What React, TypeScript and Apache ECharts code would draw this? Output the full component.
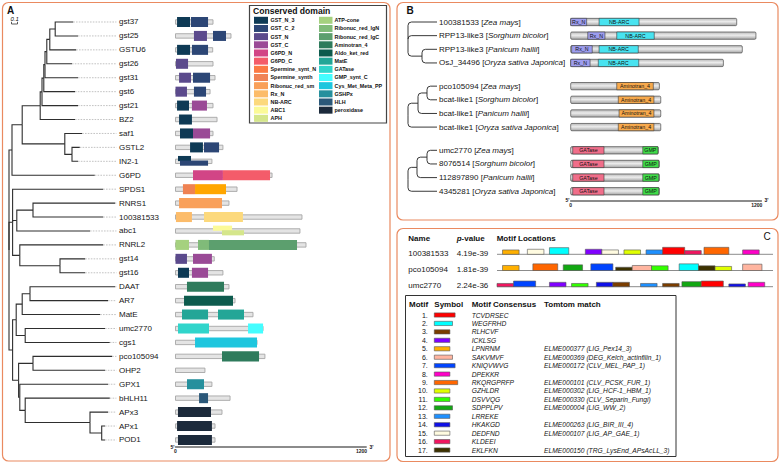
import React, { useEffect, useRef } from "react";
import * as echarts from "echarts";

const FONT = "'Liberation Sans', Arial, Helvetica, sans-serif";

// ---------------- Panel A data ----------------
const geneNames = ["gst37", "gst25", "GSTU6", "gst26", "gst31", "gst6", "gst21", "BZ2", "saf1", "GSTL2", "IN2-1", "G6PD", "SPDS1", "RNRS1", "100381533", "abc1", "RNRL2", "gst14", "gst16", "DAAT", "AR7", "MatE", "umc2770", "cgs1", "pco105094", "OHP2", "GPX1", "bHLH11", "APx3", "APx1", "POD1"];
const geneLengths = [242, 358, 240, 242, 255, 223, 242, 268, 242, 306, 235, 623, 397, 345, 816, 803, 842, 250, 306, 345, 384, 500, 565, 526, 577, 190, 235, 352, 300, 255, 255];

// [gene, domain, start, end, lane(0 full, 1 upper, 2 lower)]
const geneDomains: [string, string, number, number, number][] = [
  ["gst37", "GST_N_3", 10, 94, 0], ["gst37", "GST_C_2", 100, 210, 0],
  ["gst25", "GST_N", 119, 203, 0], ["gst25", "GST_C_2", 242, 326, 0],
  ["GSTU6", "GST_N_3", 10, 94, 0], ["GSTU6", "GST_C_2", 106, 210, 0],
  ["gst26", "GST_N", 3, 81, 0],
  ["gst31", "GST_N", 23, 100, 0], ["gst31", "GST_C_2", 113, 223, 0],
  ["gst6", "GST_N", 0, 74, 0], ["gst6", "GST_C_2", 119, 197, 0],
  ["gst21", "GST_N_3", 10, 87, 0], ["gst21", "GST_C", 106, 203, 0],
  ["BZ2", "GST_N_3", 23, 106, 0],
  ["saf1", "GST_N_3", 29, 113, 0], ["saf1", "GST_C", 113, 223, 0],
  ["GSTL2", "GST_N_3", 94, 177, 0], ["GSTL2", "GST_C_2", 184, 281, 0],
  ["IN2-1", "GST_N_3", 16, 100, 1], ["IN2-1", "GST_C_2", 29, 210, 2],
  ["G6PD", "G6PD_N", 113, 306, 0], ["G6PD", "G6PD_C", 306, 610, 0],
  ["SPDS1", "Spermine_synt_N", 48, 126, 0], ["SPDS1", "Spermine_synth", 126, 326, 0],
  ["RNRS1", "Ribonuc_red_sm", 23, 300, 0],
  ["100381533", "Rx_N", 3, 106, 0], ["100381533", "NB-ARC", 184, 435, 0],
  ["abc1", "ABC1", 242, 365, 1], ["abc1", "APH", 300, 442, 2],
  ["RNRL2", "ATP-cone", 0, 87, 0], ["RNRL2", "Ribonuc_red_lgN", 145, 216, 0], ["RNRL2", "Ribonuc_red_lgC", 216, 784, 0],
  ["gst14", "GST_N", 0, 74, 0], ["gst14", "GST_C", 113, 235, 0],
  ["gst16", "GST_N_3", 16, 87, 0], ["gst16", "GST_C", 106, 210, 0],
  ["DAAT", "Aminotran_4", 74, 313, 0],
  ["AR7", "Aldo_ket_red", 55, 371, 0],
  ["MatE", "MatE", 42, 210, 0], ["MatE", "MatE", 274, 442, 0],
  ["umc2770", "GATase", 16, 216, 0], ["umc2770", "GMP_synt_C", 468, 565, 0],
  ["cgs1", "Cys_Met_Meta_PP", 126, 526, 0],
  ["pco105094", "Aminotran_4", 300, 539, 0],
  ["GPX1", "GSHPx", 74, 184, 0],
  ["bHLH11", "HLH", 152, 210, 0],
  ["APx3", "peroxidase", 16, 229, 0],
  ["APx1", "peroxidase", 10, 235, 0],
  ["POD1", "peroxidase", 16, 235, 0],
];

const legendCol1 = ["GST_N_3", "GST_C_2", "GST_N", "GST_C", "G6PD_N", "G6PD_C", "Spermine_synt_N", "Spermine_synth", "Ribonuc_red_sm", "Rx_N", "NB-ARC", "ABC1", "APH"];
const legendCol2 = ["ATP-cone", "Ribonuc_red_lgN", "Ribonuc_red_lgC", "Aminotran_4", "Aldo_ket_red", "MatE", "GATase", "GMP_synt_C", "Cys_Met_Meta_PP", "GSHPx", "HLH", "peroxidase"];
const domainColors: Record<string, string> = {
  GST_N_3: "#0e3a55", GST_C_2: "#2c4675", GST_N: "#5b4a8c", GST_C: "#9a4a96",
  G6PD_N: "#d24586", G6PD_C: "#f45c6a", Spermine_synt_N: "#fc7a45", Spermine_synth: "#f08458",
  Ribonuc_red_sm: "#f9a05a", Rx_N: "#fcbc6a", "NB-ARC": "#fcd97c", ABC1: "#fbfa98", APH: "#d5e68b",
  "ATP-cone": "#a5d17f", Ribonuc_red_lgN: "#80bb79", Ribonuc_red_lgC: "#5c9f6e", Aminotran_4: "#2e7b5c",
  Aldo_ket_red: "#0d5b4d", MatE: "#23a697", GATase: "#30d5cb", GMP_synt_C: "#44fdff",
  Cys_Met_Meta_PP: "#1ec6de", GSHPx: "#26909d", HLH: "#2b5879", peroxidase: "#1c2a3b",
};
// colours as drawn on the SPDS1 gene model
const barColorOverride: Record<string, string> = { Spermine_synt_N: "#ef8252", Spermine_synth: "#ffa600" };

type TNode = { d: number; kids?: TNode[]; leaf?: string | number };
const N = (d: number, kids: TNode[]): TNode => ({ d, kids });
const L = (leaf: string | number, d: number): TNode => ({ d, leaf });

// depth unit = 0.1 substitutions/site
const treeA = N(0, [
  N(0.5, [
    N(2.2, [
      N(5.2, [
        N(5.5, [
          N(5.8, [
            N(6.0, [
              N(6.3, [
                N(6.8, [N(7.7, [L("gst37", 10.7), L("gst25", 11.5)]), L("GSTU6", 11.2)]),
                L("gst26", 10.5),
              ]),
              L("gst31", 11.5),
            ]),
            L("gst6", 11),
          ]),
          L("gst21", 11.5),
        ]),
        L("BZ2", 11),
      ]),
      N(9.3, [L("saf1", 12.2), N(10.5, [L("GSTL2", 11.8), L("IN2-1", 11.5)])]),
    ]),
    L("G6PD", 14.3),
  ]),
  N(0.6, [
    L("SPDS1", 15.7),
    N(1.3, [N(4, [L("RNRS1", 17.7), L("100381533", 15.7)]), L("abc1", 13.5)]),
    N(1.8, [L("RNRL2", 15.7), N(8.5, [L("gst14", 12.7), L("gst16", 12.7)])]),
  ]),
  N(0.6, [
    N(1.2, [
      N(2.2, [N(3.5, [L("DAAT", 17.7), L("AR7", 16.5)]), L("MatE", 15.2)]),
      N(2.7, [L("umc2770", 16), L("cgs1", 16.8)]),
    ]),
    N(1.6, [
      N(4, [L("pco105094", 17.2), L("OHP2", 16)]),
      N(1.8, [
        L("GPX1", 16.5),
        N(2.7, [L("bHLH11", 16.8), N(13.5, [L("APx3", 16.5), N(15.45, [L("APx1", 16), L("POD1", 16)])])]),
      ]),
    ]),
  ]),
]);

// ---------------- Panel B data ----------------
const bNames = ["100381533", "RPP13-like3", "RPP13-like3", "OsJ_34496", "pco105094", "bcat-like1", "bcat-like1", "bcat-like1", "umc2770", "8076514", "112897890", "4345281"];
const bSpecies = ["Zea mays", "Sorghum bicolor", "Panicum hallii", "Oryza sativa Japonica", "Zea mays", "Sorghum bicolor", "Panicum hallii", "Oryza sativa Japonica", "Zea mays", "Sorghum bicolor", "Panicum hallii", "Oryza sativa Japonica"];
const bLengths = [1071, 1195, 1107, 985, 572, 581, 581, 581, 565, 572, 572, 572];
const bDomains: [number, string, number, number][] = [
  [0, "Rx_N", 0, 103], [0, "NB-ARC", 183, 441],
  [1, "Rx_N", 110, 221], [1, "NB-ARC", 297, 539],
  [2, "Rx_N", 6, 139], [2, "NB-ARC", 183, 436],
  [3, "Rx_N", 0, 125], [3, "NB-ARC", 178, 439],
  [4, "Aminotran_4", 297, 533], [5, "Aminotran_4", 307, 537], [6, "Aminotran_4", 312, 537], [7, "Aminotran_4", 307, 537],
  [8, "GATase", 13, 215], [8, "GMP", 465, 563],
  [9, "GATase", 13, 215], [9, "GMP", 465, 568],
  [10, "GATase", 13, 215], [10, "GMP", 465, 568],
  [11, "GATase", 13, 215], [11, "GMP", 465, 568],
];
const bDomainColors: Record<string, string> = { Rx_N: "#9d9def", "NB-ARC": "#48e3f0", Aminotran_4: "#f7a94c", GATase: "#f06e8a", GMP: "#3fdc48" };
const treesB = [
  N(0, [L(0, 29), L(1, 29), N(14, [L(2, 29), L(3, 29)])]),
  N(0, [N(10, [N(19, [L(4, 29), L(5, 29)]), L(6, 29)]), L(7, 29)]),
  N(0, [N(9, [N(19, [L(8, 29), L(9, 29)]), L(10, 29)]), L(11, 29)]),
];

// ---------------- Panel C data ----------------
const seqNames = ["100381533", "pco105094", "umc2770"];
const seqPvalues = ["4.19e-39", "1.81e-39", "2.24e-36"];
const motifConsensus = ["TCVDRSEC", "WEGFRHD", "RLHCVF", "ICKLSG", "LPNRNM", "SAKVMVF", "KNIQVWVG", "DPEKKR", "RKQRGPRFP", "GZHLDR", "DSVVQG", "SDPPLPV", "LRREKE", "HKAKGD", "DEDFND", "KLDEEI", "EKLFKN"];
const motifColors = ["#ff0000", "#00ffff", "#7a3d00", "#8000ff", "#ffb000", "#ffb5a0", "#0044ff", "#ff00c8", "#ff6600", "#e0ff00", "#33ff00", "#12a812", "#1e90ff", "#1010e8", "#fffbe0", "#f01660", "#3d3200"];
const motifMatches = ["", "", "", "", "ELME000377 (LIG_Pex14_3)", "ELME000369 (DEG_Kelch_actinfilin_1)", "ELME000172 (CLV_MEL_PAP_1)", "", "ELME000101 (CLV_PCSK_FUR_1)", "ELME000302 (LIG_HCF-1_HBM_1)", "ELME000330 (CLV_Separin_Fungi)", "ELME000004 (LIG_WW_2)", "", "ELME000263 (LIG_BIR_III_4)", "ELME000107 (LIG_AP_GAE_1)", "", "ELME000150 (TRG_LysEnd_APsAcLL_3)"];
// [sequence, motif number, start position, relative box height]
const motifSites: [number, number, number, number][] = [
  [0, 5, 2, 0.27], [0, 15, 11, 0.31], [0, 2, 19, 0.41], [0, 4, 32, 0.31], [0, 15, 38, 0.27], [0, 10, 46, 0.27], [0, 13, 54, 0.27], [0, 1, 60, 0.43], [0, 16, 68, 0.23], [0, 9, 75, 0.43], [0, 8, 89, 0.27],
  [1, 5, 2, 0.31], [1, 9, 13, 0.41], [1, 12, 24, 0.35], [1, 7, 34, 0.41], [1, 17, 43, 0.2], [1, 6, 49, 0.31], [1, 11, 56, 0.29], [1, 2, 66, 0.41], [1, 17, 73, 0.29], [1, 10, 79, 0.25], [1, 6, 89, 0.39],
  [2, 16, 0, 0.2], [2, 7, 6, 0.35], [2, 4, 19, 0.27], [2, 11, 27, 0.2], [2, 14, 36, 0.27], [2, 3, 42, 0.27], [2, 13, 52, 0.2], [2, 3, 60, 0.2], [2, 12, 67, 0.31], [2, 1, 74, 0.35], [2, 14, 84, 0.17], [2, 8, 91, 0.27],
];
const seqLength = 100;
const scaleTicks = [0, 1200];

// ---------------- helpers ----------------
function layoutTree(root: TNode, rowOf: (leaf: string | number) => number) {
  const edges: number[][] = [];
  const tips: number[][] = [];
  const walk = (n: TNode): number => {
    if (!n.kids) {
      const y = rowOf(n.leaf as any);
      tips.push([n.d, y]);
      return y;
    }
    const ys = n.kids.map(walk);
    const y = (ys[0] + ys[ys.length - 1]) / 2;
    n.kids.forEach((k, i) => edges.push([n.d, y, k.d, ys[i]]));
    return y;
  };
  walk(root);
  return { edges, tips };
}
const bRowY = (i: number) => i + Math.floor(i / 4) * 0.7;

const txt = (x: number, y: number, text: string, o: any = {}) => ({
  type: "text",
  x,
  y,
  silent: true,
  style: {
    text,
    fontSize: 8,
    fontFamily: FONT,
    fill: "#111",
    align: "left",
    verticalAlign: "middle",
    ...o,
  },
});

function buildOption(): any {
  const aTree = layoutTree(treeA, (n) => geneNames.indexOf(n as string));
  const bEdges: number[][] = [];
  treesB.forEach((t) => bEdges.push(...layoutTree(t, (i) => bRowY(i as number)).edges));

  const grids = [
    { left: 9, top: 15.03, width: 120, height: 431.9 },
    { left: 175.5, top: 15.03, width: 190.65, height: 431.9 },
    { left: 408, top: 15.18, width: 30, height: 182.9 },
    { left: 570.7, top: 15.18, width: 190.65, height: 182.9 },
    { left: 497, top: 238.1, width: 276, height: 48.6 },
    { left: 434.3, top: 310.78, width: 26, height: 143.5 },
  ];
  const hidden = (gi: number, min: number, max: number, inverse = false) => ({ type: "value", gridIndex: gi, min, max, show: false, inverse });
  const shownX = (gi: number, offset: number) => ({
    type: "value", gridIndex: gi, min: 0, max: 1230, position: "bottom", offset,
    axisLine: { show: true, onZero: false, lineStyle: { color: "#666", width: 1.6 } },
    axisTick: { show: false }, splitLine: { show: false },
    axisLabel: { show: true, customValues: scaleTicks, formatter: (v: number) => String(v), fontSize: 5, fontWeight: "bold", color: "#222", margin: 2, fontFamily: FONT },
  });
  const xAxis = [hidden(0, 0, 20), shownX(1, 0), hidden(2, 0, 30), shownX(3, 2.6), hidden(4, 0, seqLength), hidden(5, 0, 10)];
  const yAxis = [hidden(0, -0.5, 30.5, true), hidden(1, -0.5, 30.5, true), hidden(2, -0.5, 12.9, true), hidden(3, -0.5, 12.9, true), hidden(4, 0, 3, true), hidden(5, 0.5, 17.5, true)];

  const base = (gi: number) => ({ type: "custom", xAxisIndex: gi, yAxisIndex: gi, silent: true, clip: false, z: 5 });

  const series: any[] = [
    // A tree
    {
      ...base(0), data: aTree.edges,
      renderItem: (_p: any, api: any) => {
        const a = api.coord([api.value(0), api.value(1)]);
        const b = api.coord([api.value(0), api.value(3)]);
        const c = api.coord([api.value(2), api.value(3)]);
        return { type: "polyline", shape: { points: [a, b, c] }, style: { stroke: "#2e2e2e", lineWidth: 1.1, fill: "none" } };
      },
    },
    // A leaders
    {
      ...base(0), data: aTree.tips,
      renderItem: (_p: any, api: any) => {
        const a = api.coord([api.value(0), api.value(1)]);
        const b = api.coord([17.9, api.value(1)]);
        if (b[0] - a[0] < 1) return { type: "group", children: [] };
        return { type: "line", shape: { x1: a[0], y1: a[1], x2: b[0], y2: b[1] }, style: { stroke: "#b4b4b4", lineWidth: 0.8, lineDash: [1.6, 1.2] } };
      },
    },
    // A labels
    {
      ...base(0), data: geneNames.map((_n, i) => [18.33, i]),
      renderItem: (p: any, api: any) => {
        const a = api.coord([api.value(0), api.value(1)]);
        return { type: "text", x: a[0], y: a[1], style: { text: geneNames[p.dataIndex], fontSize: 8, fontFamily: FONT, fill: "#151515", align: "left", verticalAlign: "middle" } };
      },
    },
    // A gene backbones
    {
      ...base(1), data: geneLengths.map((len, i) => [len, i]),
      renderItem: (_p: any, api: any) => {
        const a = api.coord([0, api.value(1)]);
        const b = api.coord([api.value(0), api.value(1)]);
        return { type: "rect", shape: { x: a[0], y: a[1] - 2.2, width: b[0] - a[0], height: 4.4 }, style: { fill: "#e4e4e4", stroke: "#a6a6a6", lineWidth: 0.9 } };
      },
    },
    // A domains
    {
      ...base(1), z: 6,
      data: geneDomains.map((d) => [d[2], geneNames.indexOf(d[0]), d[3], d[4]]),
      renderItem: (p: any, api: any) => {
        const dom = geneDomains[p.dataIndex];
        const lane = api.value(3);
        const off = lane === 1 ? -0.2 : lane === 2 ? 0.13 : 0;
        const hRows = lane === 0 ? 0.72 : 0.37;
        const a = api.coord([api.value(0), api.value(1) + off]);
        const b = api.coord([api.value(2), api.value(1) + off]);
        const h = api.size([0, hRows])[1];
        const col = (dom[0] === "SPDS1" && barColorOverride[dom[1]]) || domainColors[dom[1]];
        return { type: "rect", shape: { x: a[0], y: a[1] - h / 2, width: b[0] - a[0], height: h }, style: { fill: col } };
      },
    },
    // B tree
    {
      ...base(2), data: bEdges,
      renderItem: (_p: any, api: any) => {
        const a = api.coord([api.value(0), api.value(1)]);
        const b = api.coord([api.value(0), api.value(3)]);
        const c = api.coord([api.value(2), api.value(3)]);
        const dy = b[1] - a[1];
        let d: string;
        if (Math.abs(dy) < 0.5) d = `M${a[0]},${a[1]}L${c[0]},${c[1]}`;
        else {
          const r = Math.min(3.5, Math.abs(dy));
          const s = dy > 0 ? 1 : -1;
          d = `M${a[0]},${a[1]}L${b[0]},${b[1] - s * r}Q${b[0]},${b[1]} ${b[0] + r},${b[1]}L${c[0]},${c[1]}`;
        }
        return { type: "path", shape: { pathData: d }, style: { stroke: "#222", lineWidth: 0.9, fill: "none" } };
      },
    },
    // B labels
    {
      ...base(2), data: bNames.map((_n, i) => [31, bRowY(i)]),
      renderItem: (p: any, api: any) => {
        const a = api.coord([api.value(0), api.value(1)]);
        return {
          type: "text", x: a[0], y: a[1],
          style: {
            text: `${bNames[p.dataIndex]} [{i|${bSpecies[p.dataIndex]}}]`,
            rich: { i: { fontStyle: "italic", fontSize: 8, fontFamily: FONT, fill: "#151515" } },
            fontSize: 8, fontFamily: FONT, fill: "#151515", align: "left", verticalAlign: "middle",
          },
        };
      },
    },
    // B protein bars
    {
      ...base(3), data: bLengths.map((len, i) => [len, bRowY(i)]),
      renderItem: (_p: any, api: any) => {
        const a = api.coord([0, api.value(1)]);
        const b = api.coord([api.value(0), api.value(1)]);
        const h = api.size([0, 0.535])[1];
        return {
          type: "rect", shape: { x: a[0], y: a[1] - h / 2, width: b[0] - a[0], height: h, r: 1.2 },
          style: {
            fill: new echarts.graphic.LinearGradient(0, 0, 0, 1, [
              { offset: 0, color: "#b8b8b8" }, { offset: 0.45, color: "#ececec" }, { offset: 1, color: "#a4a4a4" },
            ]),
            stroke: "#4a4a4a", lineWidth: 0.7,
          },
        };
      },
    },
    // B domains
    {
      ...base(3), z: 6, data: bDomains.map((d) => [d[2], bRowY(d[0]), d[3]]),
      renderItem: (p: any, api: any) => {
        const dom = bDomains[p.dataIndex];
        const a = api.coord([api.value(0), api.value(1)]);
        const b = api.coord([api.value(2), api.value(1)]);
        const h = api.size([0, 0.535])[1];
        return {
          type: "group",
          children: [
            { type: "rect", shape: { x: a[0], y: a[1] - h / 2, width: b[0] - a[0], height: h }, style: { fill: bDomainColors[dom[1]], stroke: "#3a3a3a", lineWidth: 0.6 } },
            { type: "text", x: (a[0] + b[0]) / 2, y: a[1], style: { text: dom[1], fontSize: 5.3, fontFamily: FONT, fill: "#111", align: "center", verticalAlign: "middle" } },
          ],
        };
      },
    },
    // C sequence baselines + names + p-values
    {
      ...base(4), data: seqNames.map((_n, i) => [0, i + 1]),
      renderItem: (p: any, api: any) => {
        const a = api.coord([0, api.value(1)]);
        const b = api.coord([seqLength, api.value(1)]);
        return {
          type: "group",
          children: [
            { type: "line", shape: { x1: a[0], y1: a[1], x2: b[0], y2: b[1] }, style: { stroke: "#8c8c8c", lineWidth: 1 } },
            { type: "text", x: 408.3, y: a[1] - 1.2, style: { text: seqNames[p.dataIndex], fontSize: 8, fontFamily: FONT, fill: "#151515", align: "left", verticalAlign: "middle" } },
            { type: "text", x: 456.7, y: a[1] - 1.2, style: { text: seqPvalues[p.dataIndex], fontSize: 8, fontFamily: FONT, fill: "#151515", align: "left", verticalAlign: "middle" } },
          ],
        };
      },
    },
    // C motif sites
    {
      ...base(4), z: 6, data: motifSites.map((s) => [s[2], s[0] + 1, s[3], s[1]]),
      renderItem: (_p: any, api: any) => {
        const m = api.value(3) - 1;
        const len = motifConsensus[m].length;
        const a = api.coord([api.value(0), api.value(1)]);
        const b = api.coord([api.value(0) + len, api.value(1)]);
        const h = api.size([0, api.value(2)])[1];
        return { type: "rect", shape: { x: a[0], y: a[1] - h, width: b[0] - a[0], height: h }, style: { fill: motifColors[m], stroke: "#555", lineWidth: 0.6 } };
      },
    },
    // C table rows
    {
      ...base(5), data: motifConsensus.map((c, i) => [c.length, i + 1]),
      renderItem: (p: any, api: any) => {
        const i = p.dataIndex;
        const a = api.coord([0, api.value(1)]);
        const b = api.coord([api.value(0), api.value(1)]);
        const it = { fontSize: 6.7, fontFamily: FONT, fill: "#151515", fontStyle: "italic", align: "left", verticalAlign: "middle" };
        const kids: any[] = [
          { type: "text", x: a[0] - 6.5, y: a[1], style: { text: `${i + 1}.`, fontSize: 7, fontFamily: FONT, fill: "#151515", align: "right", verticalAlign: "middle" } },
          { type: "rect", shape: { x: a[0], y: a[1] - 2.1, width: b[0] - a[0], height: 4.2 }, style: { fill: motifColors[i], stroke: "#555", lineWidth: 0.6 } },
          { type: "text", x: a[0] + 37.4, y: a[1], style: { text: motifConsensus[i], ...it } },
        ];
        if (motifMatches[i]) kids.push({ type: "text", x: a[0] + 109.7, y: a[1], style: { text: motifMatches[i], ...it } });
        return { type: "group", children: kids };
      },
    },
  ];

  const border = "#ea8a60";
  const graphic: any[] = [
    { type: "rect", silent: true, shape: { x: 2.5, y: 2.5, width: 387.5, height: 458.5, r: 6 }, style: { fill: "none", stroke: border, lineWidth: 1.2 } },
    { type: "rect", silent: true, shape: { x: 397, y: 2.5, width: 381, height: 217.5, r: 6 }, style: { fill: "none", stroke: border, lineWidth: 1.2 } },
    { type: "rect", silent: true, shape: { x: 397, y: 228.5, width: 381, height: 233, r: 6 }, style: { fill: "none", stroke: border, lineWidth: 1.2 } },
    txt(7, 10, "A", { fontSize: 10, fontWeight: "bold" }),
    txt(406.5, 10, "B", { fontSize: 10, fontWeight: "bold" }),
    txt(763.5, 236.5, "C", { fontSize: 10 }),
    // scale bar
    txt(10.5, 18.5, "0.1", { fontSize: 6, fontStyle: "italic" }),
    { type: "polyline", silent: true, shape: { points: [[11.5, 21.8], [11.5, 24], [17.5, 24], [17.5, 21.8]] }, style: { stroke: "#333", lineWidth: 0.8, fill: "none" } },
    // axis ends
    txt(170.5, 446.5, "5'", { fontSize: 5, fontWeight: "bold" }),
    txt(369.5, 446.5, "3'", { fontSize: 5, fontWeight: "bold" }),
    txt(565.5, 199.5, "5'", { fontSize: 5, fontWeight: "bold" }),
    txt(764.5, 199.5, "3'", { fontSize: 5, fontWeight: "bold" }),
    // legend box
    { type: "rect", silent: true, shape: { x: 249.5, y: 5.5, width: 137, height: 117.5 }, style: { fill: "#fff", stroke: "#444", lineWidth: 1.2 } },
    txt(253, 11, "Conserved domain", { fontSize: 8.6, fontWeight: "bold" }),
    // C header
    txt(408.3, 238.5, "Name", { fontWeight: "bold" }),
    txt(456.7, 238.5, "{i|p}-value", { fontWeight: "bold", rich: { i: { fontStyle: "italic", fontWeight: "bold", fontSize: 8, fontFamily: FONT, fill: "#111" } } }),
    txt(496.7, 238.5, "Motif Locations", { fontWeight: "bold" }),
    // C table
    { type: "rect", silent: true, shape: { x: 405.5, y: 295.5, width: 270.5, height: 161 }, style: { fill: "none", stroke: "#333", lineWidth: 1 } },
    txt(409, 304, "Motif", { fontWeight: "bold" }),
    txt(434.3, 304, "Symbol", { fontWeight: "bold" }),
    txt(471.7, 304, "Motif Consensus", { fontWeight: "bold" }),
    txt(544, 304, "Tomtom match", { fontWeight: "bold" }),
  ];
  const legendRow = (names: string[], sx: number, sw: number, tx: number) =>
    names.forEach((n, i) => {
      const cy = 20.3 + 8.17 * i;
      graphic.push({ type: "rect", silent: true, shape: { x: sx, y: cy - 3.5, width: sw, height: 7 }, style: { fill: domainColors[n] } });
      graphic.push(txt(tx, cy, n, { fontSize: 5.4, fontWeight: "bold" }));
    });
  legendRow(legendCol1, 254, 14, 270.5);
  legendRow(legendCol2, 319, 13.5, 334.5);

  return { animation: false, backgroundColor: "#fff", grid: grids, xAxis, yAxis, series, graphic };
}

export default function App() {
  const ref = useRef<HTMLDivElement>(null);
  useEffect(() => {
    if (!ref.current) return;
    const chart = echarts.init(ref.current, null, { renderer: "svg" });
    chart.setOption(buildOption());
    return () => chart.dispose();
  }, []);
  return <div ref={ref} style={{ position: "fixed", left: 0, top: 0, width: 781, height: 463, background: "#fff" }} />;
}
